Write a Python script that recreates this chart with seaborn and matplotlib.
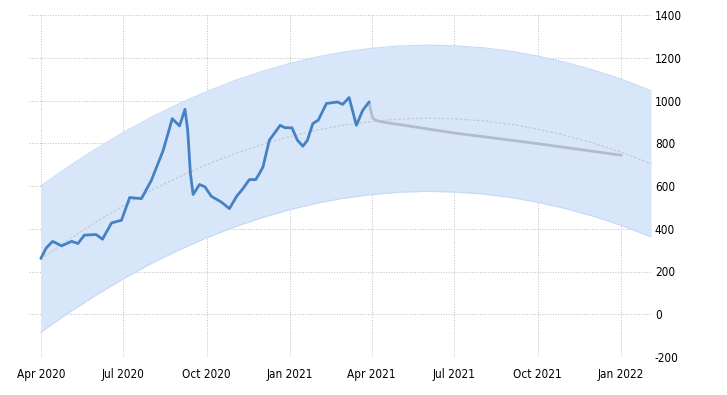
import matplotlib
matplotlib.use("Agg")
import matplotlib.pyplot as plt
import seaborn as sns
import pandas as pd

# ---- data ----
hist_dates = ["2020-04-01", "2020-04-07", "2020-04-14", "2020-04-24", "2020-05-05", "2020-05-12", "2020-05-19",
              "2020-06-01", "2020-06-08", "2020-06-18", "2020-06-29", "2020-07-08", "2020-07-21",
              "2020-08-01", "2020-08-14", "2020-08-24", "2020-09-01", "2020-09-07", "2020-09-10",
              "2020-09-13", "2020-09-16", "2020-09-23", "2020-09-29", "2020-10-06", "2020-10-17",
              "2020-10-26", "2020-11-03", "2020-11-10", "2020-11-17", "2020-11-24", "2020-11-28",
              "2020-12-02", "2020-12-09", "2020-12-21", "2020-12-26", "2021-01-03", "2021-01-09",
              "2021-01-15", "2021-01-20", "2021-01-26", "2021-02-01", "2021-02-10", "2021-02-22",
              "2021-02-28", "2021-03-07", "2021-03-15", "2021-03-22", "2021-03-29"]
hist_values = [261, 310, 341, 320, 341, 331, 370,
               373, 351, 427, 440, 546, 541,
               627, 767, 915, 881, 959, 861,
               658, 560, 607, 596, 552, 525,
               494, 552, 588, 630, 630, 658,
               689, 814, 884, 873, 872, 814,
               786, 814, 892, 908, 986, 993,
               982, 1014, 884, 954, 993]

fc_dates = ["2021-03-29", "2021-03-31", "2021-04-02", "2021-04-06", "2021-04-12",
            "2021-07-01", "2021-10-01", "2022-01-01"]
fc_values = [993, 950, 918, 906, 900, 848, 798, 744]

band_dates = ["2020-04-01", "2020-05-01", "2020-06-01", "2020-07-01", "2020-08-01", "2020-09-01",
              "2020-10-01", "2020-11-01", "2020-12-01", "2021-01-01", "2021-02-01", "2021-03-01",
              "2021-04-01", "2021-05-01", "2021-06-01", "2021-07-01", "2021-08-01", "2021-09-01",
              "2021-10-01", "2021-11-01", "2021-12-01", "2022-01-01", "2022-02-03"]
trend_values = [258, 347, 432, 508, 580, 644, 700, 751, 794, 832, 863, 885,
                902, 913, 917, 914, 905, 889, 866, 836, 801, 758, 704]
upper_values = [600, 689, 774, 850, 922, 986, 1042, 1093, 1136, 1174, 1205, 1227,
                1244, 1255, 1259, 1256, 1247, 1231, 1208, 1178, 1143, 1100, 1046]
lower_values = [-84, 5, 90, 166, 238, 302, 358, 409, 452, 490, 521, 543,
                560, 571, 575, 572, 563, 547, 524, 494, 459, 416, 362]

y_ticks = [-200, 0, 200, 400, 600, 800, 1000, 1200, 1400]
x_ticks = ["2020-04-01", "2020-07-01", "2020-10-01", "2021-01-01", "2021-04-01",
           "2021-07-01", "2021-10-01", "2022-01-01"]
x_labels = ["Apr 2020", "Jul 2020", "Oct 2020", "Jan 2021", "Apr 2021",
            "Jul 2021", "Oct 2021", "Jan 2022"]

hist = pd.DataFrame({"date": pd.to_datetime(hist_dates), "value": hist_values})
fc = pd.DataFrame({"date": pd.to_datetime(fc_dates), "value": fc_values})
band = pd.DataFrame({"date": pd.to_datetime(band_dates), "trend": trend_values,
                     "upper": upper_values, "lower": lower_values})

sns.set_style("white")
plt.rcParams["font.family"] = ["DejaVu Sans"]
plt.rcParams["font.stretch"] = "condensed"

fig = plt.figure(figsize=(7.27, 3.95), dpi=100)
ax = fig.add_axes([29 / 727, (395 - 357) / 395, (652 - 29) / 727, 342 / 395])

ax.fill_between(band["date"], band["lower"], band["upper"], color="#d8e6fa", linewidth=0, zorder=1)
ax.plot(band["date"], band["upper"], color="#c6d9f6", lw=0.8, zorder=1.5)
ax.plot(band["date"], band["lower"], color="#c6d9f6", lw=0.8, zorder=1.5)
sns.lineplot(data=band, x="date", y="trend", ax=ax, color="#c3c9d3", lw=0.9,
             linestyle=(0, (2, 1.5)), zorder=2)
sns.lineplot(data=fc, x="date", y="value", ax=ax, color="#b3bccb", lw=2, zorder=3,
             solid_joinstyle="round", solid_capstyle="round")
sns.lineplot(data=hist, x="date", y="value", ax=ax, color="#4482c4", lw=2, zorder=4,
             solid_joinstyle="round", solid_capstyle="round")

ax.set_xlim(pd.Timestamp("2020-03-19"), pd.Timestamp("2022-02-04"))
ax.set_ylim(-200, 1400)
ax.set_yticks(y_ticks)
ax.set_yticklabels([str(v) for v in y_ticks])
ax.set_xticks(pd.to_datetime(x_ticks))
ax.set_xticklabels(x_labels)
ax.yaxis.tick_right()
ax.tick_params(axis="y", length=0, pad=2, labelsize=8.5, labelcolor="#000000")
ax.tick_params(axis="x", length=5, color="#c8c8c8", width=0.8, pad=3, labelsize=8.5,
               labelcolor="#000000")
ax.grid(True, color="#c4c4c4", linestyle=(0, (1, 1.5)), linewidth=0.75)
ax.set_axisbelow(True)
for s in ax.spines.values():
    s.set_visible(False)
ax.set_xlabel("")
ax.set_ylabel("")
for lab in ax.get_yticklabels():
    lab.set_horizontalalignment("left")

fig.savefig("out.png", dpi=100)
